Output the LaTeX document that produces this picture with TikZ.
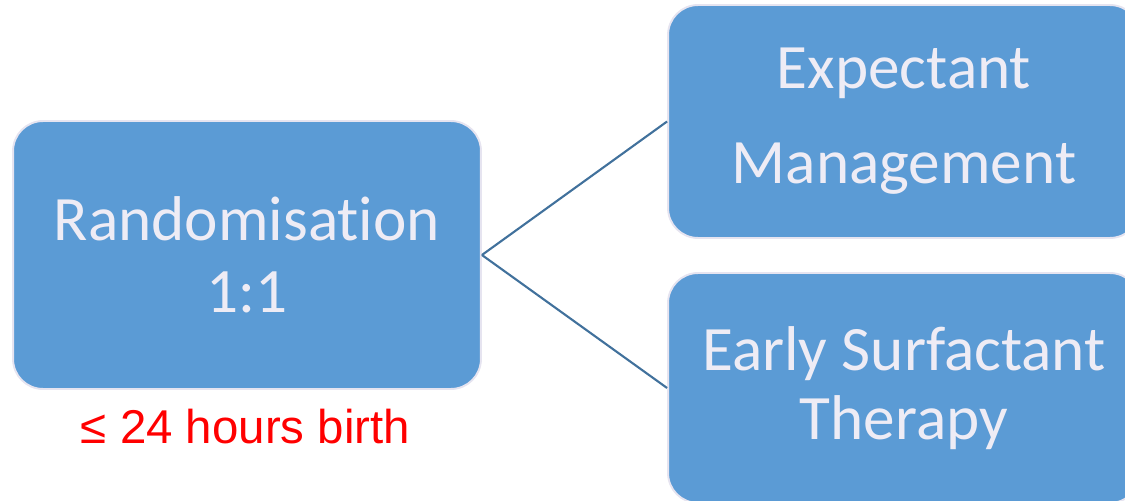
\documentclass[tikz,border=0pt]{standalone}
\usepackage{fontspec}
\setmainfont{Carlito}[Ligatures=NoCommon]
\newfontfamily\arialfont{Liberation Sans}
\usepackage{tikz}
\usetikzlibrary{positioning}

\definecolor{boxblue}{HTML}{5B9BD5}
\definecolor{boxedge}{HTML}{E6E4F0}
\definecolor{boxtext}{HTML}{EEECF5}
\definecolor{linkblue}{HTML}{41719C}

\tikzset{
	armbox/.style={draw=boxedge, line width=1.1pt, fill=boxblue, rounded corners=0.6cm,
		text=boxtext, align=center, font=\fontsize{36}{41}\selectfont},
	link/.style={draw=linkblue, line width=1.2pt}
}

\begin{document}
\begin{tikzpicture}[x=0.02cm, y=-0.02cm]

\clip (0,0) rectangle (1125,500);

\node [armbox, minimum width=9.36cm, minimum height=5.36cm] (rand) at (247,255) {
	Randomisation \\
	1:1
};

\node [armbox, minimum width=9.44cm, minimum height=4.66cm] (expect) at (904,121.5) {
	\raisebox{-2pt}{Expectant} \\[15pt]
	Management
};

\node [armbox, minimum width=9.44cm, minimum height=4.6cm] (early) at (904,388) {
	\raisebox{-2pt}{Early Surfactant} \\
	Therapy
};

\node [anchor=base, text=red, font=\arialfont\fontsize{27}{30}\selectfont] (window) at (245.5,443) {≤ 24 hours birth};

\path [link] (rand.east) -- (expect.west);
\path [link] (rand.east) -- (early.west);

\end{tikzpicture}
\end{document}
